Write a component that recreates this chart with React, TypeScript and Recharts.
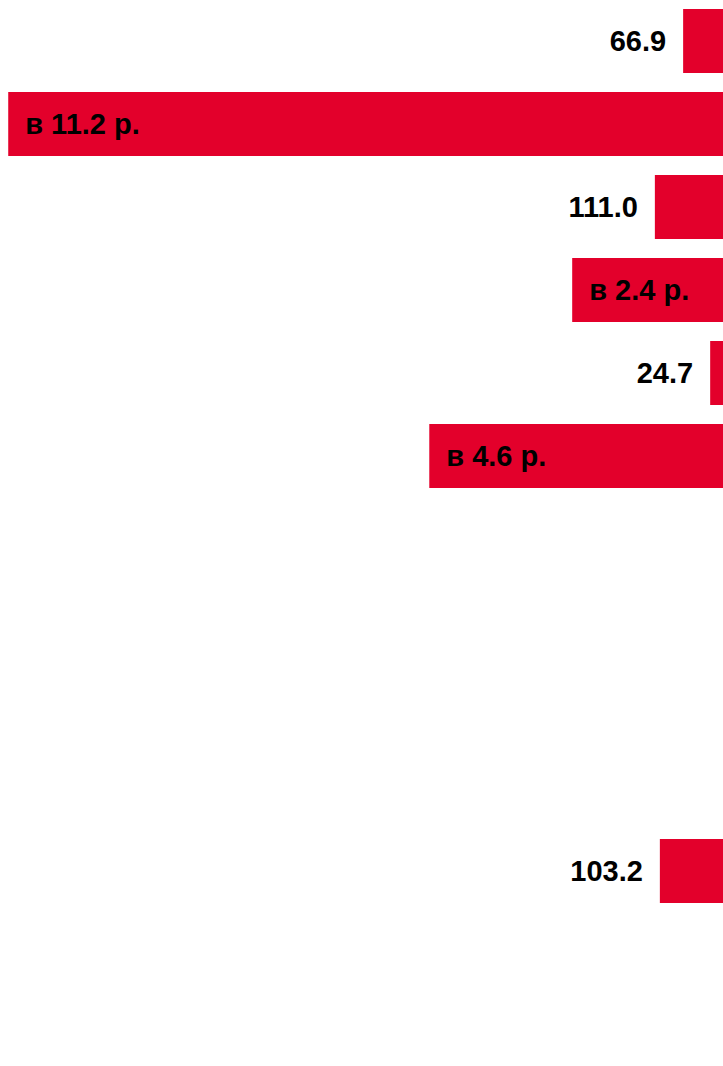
import React from "react";
import { BarChart, Bar, XAxis, YAxis, LabelList } from "recharts";

const categories = ["r1", "r2", "r3", "r4", "r5", "r6", "r7", "r8", "r9", "r10", "r11", "r12", "r13"];
const values: (number | null)[] = [66.9, 1120, 111.0, 240, 24.7, 463, null, null, null, null, 103.2, null, null];
const labels: string[] = ["66.9", "в 11.2 р.", "111.0", "в 2.4 р.", "24.7", "в 4.6 р.", "", "", "", "", "103.2", "", ""];

const data = categories.map((name, i) => ({ name, value: values[i], label: labels[i] }));

const RED = "#E3002B";

const renderLabel = (props: any) => {
  const { x, y, width, height, value } = props;
  const text = value == null ? "" : String(value);
  if (!text || x == null) return null;
  const left = Math.min(Number(x), Number(x) + Number(width));
  const cy = Number(y) + Number(height) / 2;
  const inside = text.startsWith("в ");
  return (
    <text
      x={inside ? left + 17 : left - 17}
      y={cy}
      textAnchor={inside ? "start" : "end"}
      dominantBaseline="central"
      fill="#000"
      fontFamily="'Liberation Sans', Arial, sans-serif"
      fontWeight="bold"
      fontSize={29}
    >
      {text}
    </text>
  );
};

export default function App() {
  return (
    <div style={{ position: "fixed", left: 0, top: 0, width: 723, height: 1066, overflow: "hidden", background: "#fff" }}>
      <div style={{ position: "absolute", left: -11, top: -1.5 }}>
        <BarChart
          width={737}
          height={1079}
          data={data}
          layout="vertical"
          margin={{ top: 0, right: 0, bottom: 0, left: 0 }}
        >
          <XAxis type="number" domain={[0, 1150]} reversed hide allowDataOverflow />
          <YAxis type="category" dataKey="name" hide />
          <Bar dataKey="value" fill={RED} barSize={64} isAnimationActive={false}>
            <LabelList dataKey="label" content={renderLabel} />
          </Bar>
        </BarChart>
      </div>
    </div>
  );
}
